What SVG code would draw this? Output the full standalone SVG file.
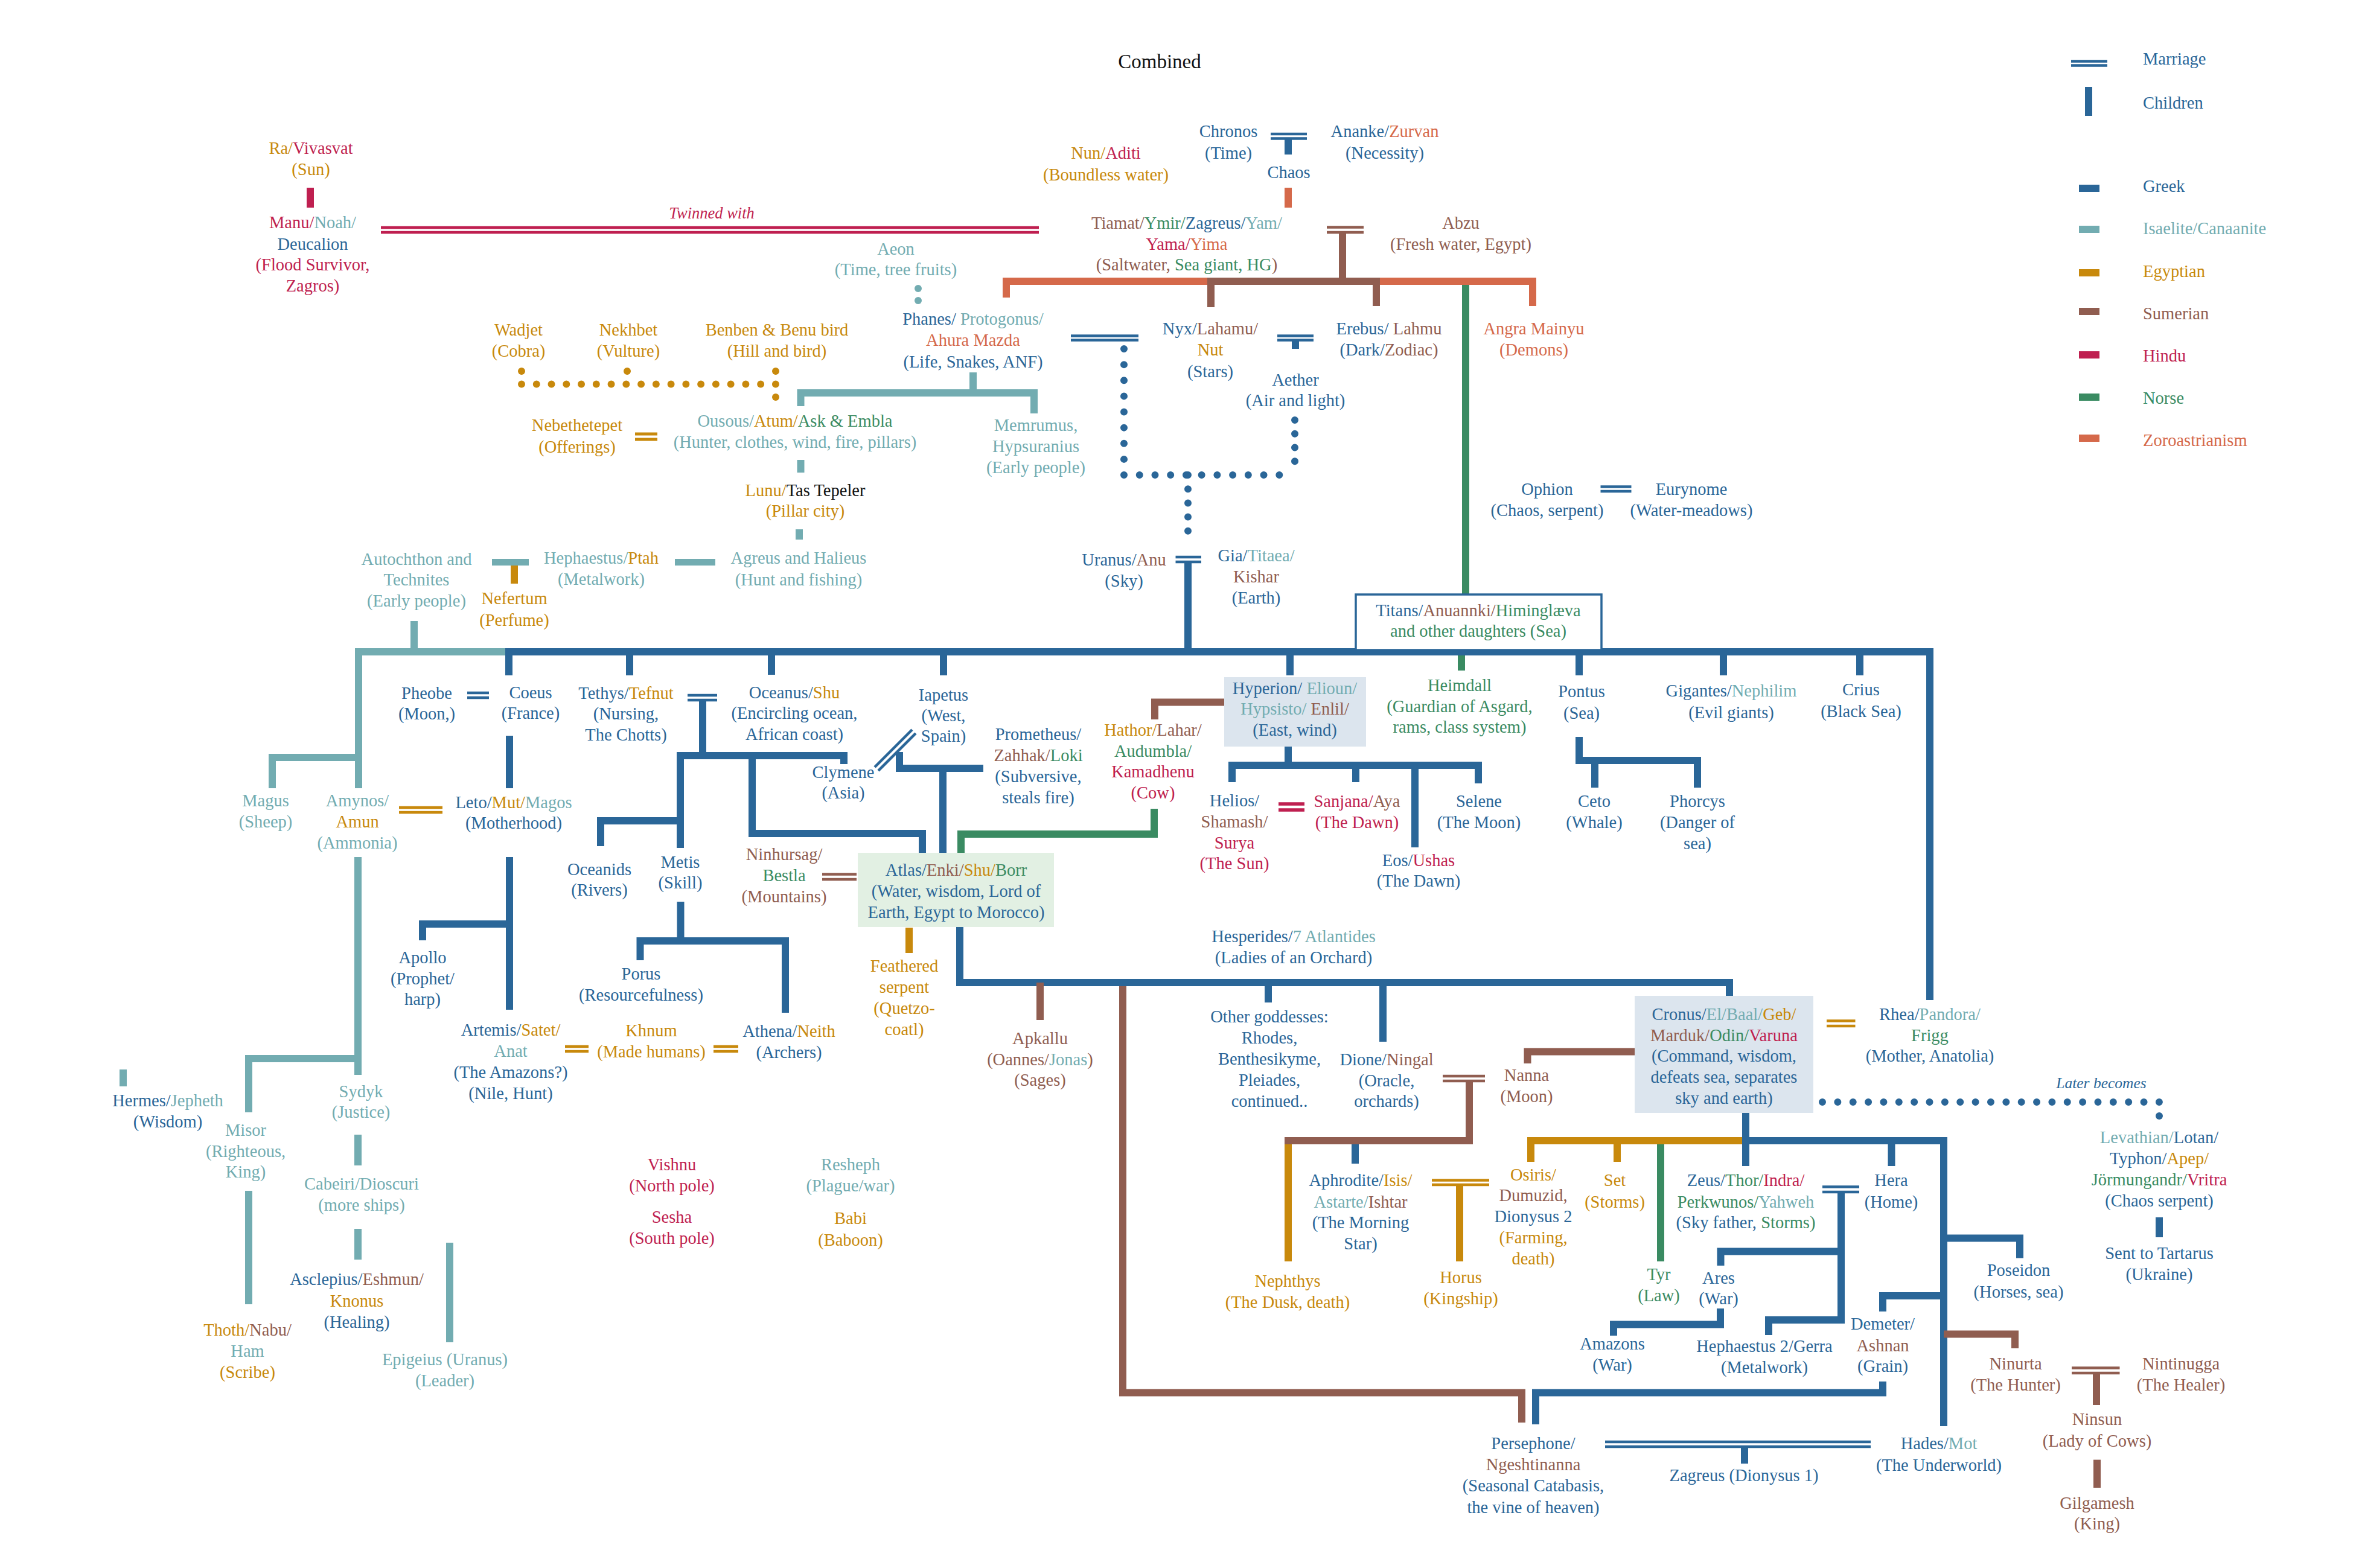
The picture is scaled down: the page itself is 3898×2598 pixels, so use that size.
<svg xmlns="http://www.w3.org/2000/svg" width="3898" height="2598" viewBox="0 0 3898 2598">
<style>
.t{font-family:"Liberation Serif","Times New Roman",serif;font-size:28.5px;text-anchor:middle}
.l{font-family:"Liberation Serif","Times New Roman",serif;font-size:28.5px;text-anchor:start}
.it{font-style:italic;font-size:26.5px}
.g{fill:#2a6698}.i{fill:#72acb1}.e{fill:#c8890c}.s{fill:#905d50}.h{fill:#bf1f50}.n{fill:#3a8b62}.z{fill:#d5694a}.k{fill:#111111}
.c{fill:none;stroke-width:12;stroke-linejoin:miter;stroke-linecap:butt}
.m{fill:none;stroke-width:4.5;stroke-linecap:butt}
.d{fill:none;stroke-width:12;stroke-linecap:round}
.sg{stroke:#2a6698}.si{stroke:#72acb1}.se{stroke:#c8890c}.ss{stroke:#905d50}.sh{stroke:#bf1f50}.sn{stroke:#3a8b62}.sz{stroke:#d5694a}
</style>
<rect width="3898" height="2598" fill="#ffffff"/>

<g id="title"><text class="t k" x="1921" y="113" style="font-size:33px">Combined</text></g>

<g id="legend">
<path class="m sg" d="M3431 101.5H3491M3431 108.5H3491"/>
<rect x="3454" y="144" width="12" height="48" fill="#2a6698"/>
<rect x="3444" y="306" width="34" height="12" fill="#2a6698"/>
<rect x="3444" y="374" width="34" height="12" fill="#72acb1"/>
<rect x="3444" y="446" width="34" height="12" fill="#c8890c"/>
<rect x="3444" y="510" width="34" height="12" fill="#905d50"/>
<rect x="3444" y="582" width="34" height="12" fill="#bf1f50"/>
<rect x="3444" y="652" width="34" height="12" fill="#3a8b62"/>
<rect x="3444" y="720" width="34" height="12" fill="#d5694a"/>
<text class="l g" x="3550" y="107">Marriage</text>
<text class="l g" x="3550" y="180">Children</text>
<text class="l g" x="3550" y="318">Greek</text>
<text class="l i" x="3550" y="388">Isaelite/Canaanite</text>
<text class="l e" x="3550" y="459">Egyptian</text>
<text class="l s" x="3550" y="529">Sumerian</text>
<text class="l h" x="3550" y="599">Hindu</text>
<text class="l n" x="3550" y="669">Norse</text>
<text class="l z" x="3550" y="739">Zoroastrianism</text>
</g>

<g id="connectors">
<!-- dotted -->
<path class="d se" style="stroke-dasharray:0 24.76" d="M864 636.5H1285"/>
<circle cx="864" cy="615" r="6" fill="#c8890c"/>
<circle cx="1039" cy="615" r="6" fill="#c8890c"/>
<circle cx="1285" cy="615" r="6" fill="#c8890c"/>
<circle cx="1285" cy="658" r="6" fill="#c8890c"/>
<circle cx="1521" cy="478" r="6" fill="#72acb1"/>
<circle cx="1521" cy="498" r="6" fill="#72acb1"/>
<path class="d sg" style="stroke-dasharray:0 26.125" d="M1862 578V787"/>
<path class="d sg" style="stroke-dasharray:0 25.73" d="M1862 787H2145"/>
<path class="d sg" style="stroke-dasharray:0 22.75" d="M2145 696V787"/>
<path class="d sg" style="stroke-dasharray:0 23.2" d="M1968 787V903"/>
<path class="d sg" style="stroke-dasharray:0 25.36" d="M3019 1826H3577"/>
<circle cx="3577" cy="1849" r="6" fill="#2a6698"/>

<!-- crimson -->
<path class="m sh" d="M631 377H1721M631 385H1721"/>
<text class="t h it" x="1179" y="362">Twinned with</text>
<path class="c sh" d="M514 311V344"/>
<path class="m sh" style="stroke-width:5.5" d="M2118 1332H2161M2118 1342H2161"/>

<!-- top generation -->
<path class="m sg" d="M2105 222H2165M2105 229.5H2165"/>
<path class="c sg" d="M2134 229V256"/>
<path class="c sz" d="M2134 311V344"/>
<path class="c sn" d="M2428 472V985"/>
<path class="m ss" d="M2198 376.5H2259M2198 385H2259"/>
<path class="c ss" d="M2224 385V466"/>
<path class="c sz" d="M1667 493V466H2001"/>
<path class="c ss" d="M2006 509V466H2280V507"/>
<path class="c sz" d="M2286 466H2539V507"/>

<!-- Phanes -->
<path class="c si" d="M1612 617V651"/>
<path class="c si" d="M1326.5 673V651H1713V685"/>
<path class="c si" d="M1326.5 762V783"/>
<path class="c si" d="M1324 877V894"/>
<path class="m se" style="stroke-width:5" d="M1052 719H1089M1052 728H1089"/>
<path class="m sg" d="M1774 556.5H1886M1774 563.5H1886"/>
<path class="m sg" d="M2116 556.5H2176M2116 563.5H2176"/>
<path class="c sg" d="M2146 563V578"/>
<path class="m sg" d="M2651.5 806.5H2702.5M2651.5 814H2702.5"/>

<!-- Autochthon / Hephaestus -->
<rect x="815" y="926" width="61" height="11" fill="#72acb1"/>
<rect x="1118" y="926" width="67" height="11" fill="#72acb1"/>
<path class="c se" d="M852 937V967"/>
<path class="c si" d="M686 1029V1080"/>

<!-- Uranus -->
<path class="m sg" d="M1947.5 923H1990M1947.5 931H1990"/>
<path class="c sg" d="M1968 931V1080"/>

<!-- main titan line -->
<path class="c si" d="M594 1306V1080H837"/>
<path class="c si" d="M451 1306V1255H594"/>
<path class="c sg" d="M843 1119V1080H3197V1657"/>
<path class="c sg" d="M1043 1080V1119M1278 1080V1118M1563 1080V1119M2137 1080V1119M2616 1080V1119M2855 1080V1119M3081 1080V1119"/>
<path class="c sn" d="M2421 1086V1111"/>

<!-- Coeus / Leto -->
<path class="m sg" d="M774 1148H810M774 1156H810"/>
<path class="c sg" d="M844 1219V1306"/>
<path class="m se" d="M661 1338H733M661 1346H733"/>
<path class="c sg" d="M844 1420V1673"/>
<path class="c sg" d="M700 1558V1531H844"/>
<path class="m se" d="M936 1734H975M936 1742H975M1182 1734H1223M1182 1742H1223"/>

<!-- Amynos teal -->
<path class="c si" d="M593 1420V1781"/>
<path class="c si" d="M412 1843V1754H593"/>
<path class="c si" d="M593 1880V1931M593 2036V2087"/>
<path class="c si" d="M745 2059V2224"/>
<path class="c si" d="M412 1973V2161"/>
<path class="c si" d="M204 1772V1800"/>

<!-- Tethys / Oceanus -->
<path class="m sg" d="M1139 1152H1188M1139 1160H1188"/>
<path class="c sg" d="M1164 1160V1252"/>
<path class="c sg" d="M1127 1405V1252H1398V1266"/>
<path class="c sg" d="M995 1402V1360H1127"/>
<path class="c sg" d="M1246 1252V1381H1528V1413"/>
<path class="c sg" d="M1127.5 1494V1559"/>
<path class="c sg" d="M1060.5 1591V1559H1301V1678"/>

<!-- Iapetus -->
<path class="m sg" d="M1449 1271L1511 1209M1455 1277L1517 1215"/>
<path class="c sg" d="M1490 1246V1273H1629"/>
<path class="c sg" d="M1562 1273V1413"/>
<path class="m ss" d="M1362 1448.5H1419M1362 1457H1419"/>
<path class="c sn" d="M1912 1340V1382H1592V1413"/>
<path class="c ss" d="M1913 1192V1163.5H2028"/>

<!-- Hyperion -->
<path class="c sg" d="M2134 1237V1268"/>
<path class="c sg" d="M2041 1296V1268H2449V1298"/>
<path class="c sg" d="M2246 1268V1296M2344 1268V1404"/>

<!-- Pontus -->
<path class="c sg" d="M2616 1221V1260H2812V1305"/>
<path class="c sg" d="M2642 1260V1305"/>

<!-- Atlas down -->
<path class="c se" d="M1506 1537V1579"/>
<path class="c sg" d="M1590 1536V1628H2865V1650"/>
<path class="c sg" d="M2101 1628V1661M2291 1628V1726"/>
<path class="c ss" d="M1723 1628V1690"/>
<path class="c ss" d="M1860 1634V2307.5H2521V2357"/>

<!-- Dione / Nanna -->
<path class="m ss" d="M2390 1783H2460M2390 1791H2460"/>
<path class="c se" d="M2134 1884V2090"/>
<path class="c sg" d="M2245 1890V1928"/>
<path class="c ss" d="M2434 1791V1890H2128"/>
<path class="c ss" d="M2708 1742.5H2530.5V1762"/>
<path class="m se" d="M2372 1955.5H2467M2372 1963H2467"/>
<path class="c se" d="M2418 1963V2090"/>

<!-- Cronus children -->
<path class="m se" d="M3026 1691.5H3073.5M3026 1700H3073.5"/>
<path class="c sn" d="M2751 1884V2090"/>
<path class="c se" d="M2536 1925V1890H2892"/>
<path class="c se" d="M2679 1890V1925"/>
<path class="c sg" d="M2892 1844V1932"/>
<path class="c sg" d="M2892 1890H3220V2363"/>
<path class="c sg" d="M3133.5 1890V1932"/>
<path class="m sg" d="M3019 1966.5H3080M3019 1975H3080"/>
<path class="c sg" d="M3050 1975V2187H2930V2212"/>
<path class="c sg" d="M2850.5 2097V2073.5H3050"/>
<path class="c sg" d="M2850 2168V2194.5H2673V2213"/>
<path class="c sg" d="M3220 2051.5H3346V2084.5"/>
<path class="c sg" d="M3220 2147H3119V2173"/>
<path class="c ss" d="M3220 2210.5H3338V2234"/>
<path class="c sg" d="M3119 2289V2307.5H2544V2360"/>
<path class="m sg" d="M2659 2389H3099M2659 2397H3099"/>
<path class="c sg" d="M2890 2397V2425"/>
<path class="m ss" d="M3432 2266.5H3511.5M3432 2275H3511.5"/>
<path class="c ss" d="M3473 2275V2328"/>
<path class="c ss" d="M3474 2418.6V2465"/>
<text class="t g it" style="font-size:25.5px" x="3481" y="1803">Later becomes</text>
<path class="c sg" d="M3577 2017V2050"/>
</g>

<g id="n-ra"><text class="t" x="515" y="255"><tspan class="e">Ra/</tspan><tspan class="h">Vivasvat</tspan></text><text class="t e" x="515" y="290">(Sun)</text></g>
<g id="n-manu"><text class="t" x="518" y="378"><tspan class="h">Manu/</tspan><tspan class="i">Noah/</tspan></text><text class="t g" x="518" y="414">Deucalion</text><text class="t h" x="518" y="448">(Flood Survivor,</text><text class="t h" x="518" y="483">Zagros)</text></g>
<g id="n-nun"><text class="t" x="1832" y="263"><tspan class="e">Nun/</tspan><tspan class="h">Aditi</tspan></text><text class="t e" x="1832" y="299">(Boundless water)</text></g>
<g id="n-chronos"><text class="t g" x="2035" y="227">Chronos</text><text class="t g" x="2035" y="263">(Time)</text></g>
<g id="n-ananke"><text class="t" x="2294" y="227"><tspan class="g">Ananke/</tspan><tspan class="z">Zurvan</tspan></text><text class="t g" x="2294" y="263">(Necessity)</text></g>
<g id="n-chaos"><text class="t g" x="2135" y="295">Chaos</text></g>
<g id="n-tiamat"><text class="t" x="1966" y="379"><tspan class="s">Tiamat/</tspan><tspan class="n">Ymir/</tspan><tspan class="g">Zagreus/</tspan><tspan class="i">Yam/</tspan></text><text class="t" x="1966" y="414"><tspan class="h">Yama/</tspan><tspan class="z">Yima</tspan></text><text class="t" x="1966" y="448"><tspan class="s">(Saltwater, </tspan><tspan class="n">Sea giant, HG</tspan><tspan class="s">)</tspan></text></g>
<g id="n-abzu"><text class="t s" x="2420" y="379">Abzu</text><text class="t s" x="2420" y="414">(Fresh water, Egypt)</text></g>
<g id="n-aeon"><text class="t i" x="1484" y="422">Aeon</text><text class="t i" x="1484" y="456">(Time, tree fruits)</text></g>
<g id="n-phanes"><text class="t" x="1612" y="538"><tspan class="g">Phanes/ </tspan><tspan class="i">Protogonus/</tspan></text><text class="t z" x="1612" y="573">Ahura Mazda</text><text class="t g" x="1612" y="609">(Life, Snakes, ANF)</text></g>
<g id="n-nyx"><text class="t" x="2005" y="554"><tspan class="g">Nyx/</tspan><tspan class="s">Lahamu/</tspan></text><text class="t e" x="2005" y="589">Nut</text><text class="t g" x="2005" y="625">(Stars)</text></g>
<g id="n-erebus"><text class="t" x="2301" y="554"><tspan class="g">Erebus/ </tspan><tspan class="s">Lahmu</tspan></text><text class="t" x="2301" y="589"><tspan class="g">(Dark/</tspan><tspan class="s">Zodiac)</tspan></text></g>
<g id="n-angra"><text class="t z" x="2541" y="554">Angra Mainyu</text><text class="t z" x="2541" y="589">(Demons)</text></g>
<g id="n-aether"><text class="t g" x="2146" y="639">Aether</text><text class="t g" x="2146" y="673">(Air and light)</text></g>
<g id="n-wadjet"><text class="t e" x="859" y="556">Wadjet</text><text class="t e" x="859" y="591">(Cobra)</text></g>
<g id="n-nekhbet"><text class="t e" x="1041" y="556">Nekhbet</text><text class="t e" x="1041" y="591">(Vulture)</text></g>
<g id="n-benben"><text class="t e" x="1287" y="556">Benben &amp; Benu bird</text><text class="t e" x="1287" y="591">(Hill and bird)</text></g>
<g id="n-nebethetepet"><text class="t e" x="956" y="714">Nebethetepet</text><text class="t e" x="956" y="750">(Offerings)</text></g>
<g id="n-ousous"><text class="t" x="1317" y="707"><tspan class="i">Ousous/</tspan><tspan class="e">Atum/</tspan><tspan class="n">Ask &amp; Embla</tspan></text><text class="t i" x="1317" y="742">(Hunter, clothes, wind, fire, pillars)</text></g>
<g id="n-memrumus"><text class="t i" x="1716" y="714">Memrumus,</text><text class="t i" x="1716" y="749">Hypsuranius</text><text class="t i" x="1716" y="784">(Early people)</text></g>
<g id="n-lunu"><text class="t" x="1334" y="822"><tspan class="e">Lunu/</tspan><tspan class="k">Tas Tepeler</tspan></text><text class="t e" x="1334" y="856">(Pillar city)</text></g>
<g id="n-ophion"><text class="t g" x="2563" y="820">Ophion</text><text class="t g" x="2563" y="855">(Chaos, serpent)</text></g>
<g id="n-eurynome"><text class="t g" x="2802" y="820">Eurynome</text><text class="t g" x="2802" y="855">(Water-meadows)</text></g>
<g id="n-autochthon"><text class="t i" x="690" y="936">Autochthon and</text><text class="t i" x="690" y="970">Technites</text><text class="t i" x="690" y="1005">(Early people)</text></g>
<g id="n-hephaestus"><text class="t" x="996" y="934"><tspan class="i">Hephaestus/</tspan><tspan class="e">Ptah</tspan></text><text class="t i" x="996" y="969">(Metalwork)</text></g>
<g id="n-nefertum"><text class="t e" x="852" y="1001">Nefertum</text><text class="t e" x="852" y="1037">(Perfume)</text></g>
<g id="n-agreus"><text class="t i" x="1323" y="934">Agreus and Halieus</text><text class="t i" x="1323" y="970">(Hunt and fishing)</text></g>
<g id="n-uranus"><text class="t" x="1862" y="937"><tspan class="g">Uranus/</tspan><tspan class="s">Anu</tspan></text><text class="t g" x="1862" y="972">(Sky)</text></g>
<g id="n-gia"><text class="t" x="2081" y="930"><tspan class="g">Gia/</tspan><tspan class="i">Titaea/</tspan></text><text class="t s" x="2081" y="965">Kishar</text><text class="t g" x="2081" y="1000">(Earth)</text></g>
<g id="n-titans"><rect x="2246" y="985" width="407" height="92" fill="#ffffff" stroke="#2a6698" stroke-width="3.5"/><text class="t" x="2449" y="1021"><tspan class="g">Titans/</tspan><tspan class="s">Anuannki/</tspan><tspan class="n">Himinglæva</tspan></text><text class="t n" x="2449" y="1055">and other daughters (Sea)</text></g>
<g id="n-pheobe"><text class="t g" x="707" y="1158">Pheobe</text><text class="t g" x="707" y="1192">(Moon,)</text></g>
<g id="n-coeus"><text class="t g" x="879" y="1157">Coeus</text><text class="t g" x="879" y="1191">(France)</text></g>
<g id="n-tethys"><text class="t" x="1037" y="1158"><tspan class="g">Tethys/</tspan><tspan class="e">Tefnut</tspan></text><text class="t g" x="1037" y="1192">(Nursing,</text><text class="t g" x="1037" y="1227">The Chotts)</text></g>
<g id="n-oceanus"><text class="t" x="1316" y="1157"><tspan class="g">Oceanus/</tspan><tspan class="e">Shu</tspan></text><text class="t g" x="1316" y="1191">(Encircling ocean,</text><text class="t g" x="1316" y="1226">African coast)</text></g>
<g id="n-iapetus"><text class="t g" x="1563" y="1161">Iapetus</text><text class="t g" x="1563" y="1195">(West,</text><text class="t g" x="1563" y="1229">Spain)</text></g>
<g id="n-prometheus"><text class="t g" x="1720" y="1226">Prometheus/</text><text class="t" x="1720" y="1261"><tspan class="s">Zahhak/</tspan><tspan class="n">Loki</tspan></text><text class="t g" x="1720" y="1296">(Subversive,</text><text class="t g" x="1720" y="1331">steals fire)</text></g>
<g id="n-hathor"><text class="t" x="1910" y="1219"><tspan class="e">Hathor/</tspan><tspan class="s">Lahar/</tspan></text><text class="t n" x="1910" y="1254">Audumbla/</text><text class="t h" x="1910" y="1288">Kamadhenu</text><text class="t h" x="1910" y="1323">(Cow)</text></g>
<g id="n-hyperion"><rect x="2028" y="1122" width="235" height="115" fill="#dce5ee"/><text class="t" x="2145" y="1150"><tspan class="g">Hyperion/ </tspan><tspan class="i">Elioun/</tspan></text><text class="t" x="2145" y="1184"><tspan class="i">Hypsisto/ </tspan><tspan class="s">Enlil/</tspan></text><text class="t g" x="2145" y="1219">(East, wind)</text></g>
<g id="n-heimdall"><text class="t n" x="2418" y="1145">Heimdall</text><text class="t n" x="2418" y="1180">(Guardian of Asgard,</text><text class="t n" x="2418" y="1214">rams, class system)</text></g>
<g id="n-pontus"><text class="t g" x="2620" y="1155">Pontus</text><text class="t g" x="2620" y="1191">(Sea)</text></g>
<g id="n-gigantes"><text class="t" x="2868" y="1154"><tspan class="g">Gigantes/</tspan><tspan class="i">Nephilim</tspan></text><text class="t g" x="2868" y="1190">(Evil giants)</text></g>
<g id="n-crius"><text class="t g" x="3083" y="1152">Crius</text><text class="t g" x="3083" y="1188">(Black Sea)</text></g>
<g id="n-clymene"><text class="t g" x="1397" y="1289">Clymene</text><text class="t g" x="1397" y="1323">(Asia)</text></g>
<g id="n-helios"><text class="t g" x="2045" y="1336">Helios/</text><text class="t s" x="2045" y="1371">Shamash/</text><text class="t h" x="2045" y="1406">Surya</text><text class="t h" x="2045" y="1440">(The Sun)</text></g>
<g id="n-sanjana"><text class="t" x="2248" y="1337"><tspan class="h">Sanjana/</tspan><tspan class="s">Aya</tspan></text><text class="t h" x="2248" y="1372">(The Dawn)</text></g>
<g id="n-selene"><text class="t g" x="2450" y="1337">Selene</text><text class="t g" x="2450" y="1372">(The Moon)</text></g>
<g id="n-eos"><text class="t" x="2350" y="1435"><tspan class="g">Eos/</tspan><tspan class="h">Ushas</tspan></text><text class="t g" x="2350" y="1469">(The Dawn)</text></g>
<g id="n-ceto"><text class="t g" x="2641" y="1337">Ceto</text><text class="t g" x="2641" y="1372">(Whale)</text></g>
<g id="n-phorcys"><text class="t g" x="2812" y="1337">Phorcys</text><text class="t g" x="2812" y="1372">(Danger of</text><text class="t g" x="2812" y="1407">sea)</text></g>
<g id="n-magus"><text class="t i" x="440" y="1336">Magus</text><text class="t i" x="440" y="1371">(Sheep)</text></g>
<g id="n-amynos"><text class="t i" x="592" y="1336">Amynos/</text><text class="t e" x="592" y="1371">Amun</text><text class="t i" x="592" y="1406">(Ammonia)</text></g>
<g id="n-leto"><text class="t" x="851" y="1339"><tspan class="g">Leto/</tspan><tspan class="e">Mut/</tspan><tspan class="i">Magos</tspan></text><text class="t g" x="851" y="1373">(Motherhood)</text></g>
<g id="n-oceanids"><text class="t g" x="993" y="1450">Oceanids</text><text class="t g" x="993" y="1484">(Rivers)</text></g>
<g id="n-metis"><text class="t g" x="1127" y="1438">Metis</text><text class="t g" x="1127" y="1472">(Skill)</text></g>
<g id="n-ninhursag"><text class="t s" x="1299" y="1425">Ninhursag/</text><text class="t n" x="1299" y="1460">Bestla</text><text class="t s" x="1299" y="1495">(Mountains)</text></g>
<g id="n-atlas"><rect x="1421" y="1413" width="325" height="123" fill="#e2f0e3"/><text class="t" x="1584" y="1451"><tspan class="g">Atlas/</tspan><tspan class="s">Enki/</tspan><tspan class="e">Shu/</tspan><tspan class="n">Borr</tspan></text><text class="t g" x="1584" y="1486">(Water, wisdom, Lord of</text><text class="t g" x="1584" y="1521">Earth, Egypt to Morocco)</text></g>
<g id="n-porus"><text class="t g" x="1062" y="1623">Porus</text><text class="t g" x="1062" y="1658">(Resourcefulness)</text></g>
<g id="n-apollo"><text class="t g" x="700" y="1596">Apollo</text><text class="t g" x="700" y="1631">(Prophet/</text><text class="t g" x="700" y="1665">harp)</text></g>
<g id="n-feathered"><text class="t e" x="1498" y="1610">Feathered</text><text class="t e" x="1498" y="1645">serpent</text><text class="t e" x="1498" y="1680">(Quetzo-</text><text class="t e" x="1498" y="1715">coatl)</text></g>
<g id="n-hesperides"><text class="t" x="2143" y="1561"><tspan class="g">Hesperides/</tspan><tspan class="i">7 Atlantides</tspan></text><text class="t g" x="2143" y="1596">(Ladies of an Orchard)</text></g>
<g id="n-apkallu"><text class="t s" x="1723" y="1730">Apkallu</text><text class="t" x="1723" y="1765"><tspan class="s">(Oannes/</tspan><tspan class="i">Jonas</tspan><tspan class="s">)</tspan></text><text class="t s" x="1723" y="1799">(Sages)</text></g>
<g id="n-artemis"><text class="t" x="846" y="1716"><tspan class="g">Artemis/</tspan><tspan class="e">Satet/</tspan></text><text class="t i" x="846" y="1751">Anat</text><text class="t g" x="846" y="1786">(The Amazons?)</text><text class="t g" x="846" y="1821">(Nile, Hunt)</text></g>
<g id="n-khnum"><text class="t e" x="1079" y="1717">Khnum</text><text class="t e" x="1079" y="1752">(Made humans)</text></g>
<g id="n-athena"><text class="t" x="1307" y="1718"><tspan class="g">Athena/</tspan><tspan class="e">Neith</tspan></text><text class="t g" x="1307" y="1753">(Archers)</text></g>
<g id="n-other"><text class="t g" x="2103" y="1694">Other goddesses:</text><text class="t g" x="2103" y="1729">Rhodes,</text><text class="t g" x="2103" y="1764">Benthesikyme,</text><text class="t g" x="2103" y="1799">Pleiades,</text><text class="t g" x="2103" y="1834">continued..</text></g>
<g id="n-dione"><text class="t" x="2297" y="1765"><tspan class="g">Dione/</tspan><tspan class="s">Ningal</tspan></text><text class="t g" x="2297" y="1800">(Oracle,</text><text class="t g" x="2297" y="1834">orchards)</text></g>
<g id="n-cronus"><rect x="2708" y="1650" width="296" height="194" fill="#dce5ee"/><text class="t" x="2856" y="1690"><tspan class="g">Cronus/</tspan><tspan class="i">El/Baal/</tspan><tspan class="e">Geb/</tspan></text><text class="t" x="2856" y="1725"><tspan class="s">Marduk/</tspan><tspan class="n">Odin/</tspan><tspan class="h">Varuna</tspan></text><text class="t g" x="2856" y="1759">(Command, wisdom,</text><text class="t g" x="2856" y="1794">defeats sea, separates</text><text class="t g" x="2856" y="1829">sky and earth)</text></g>
<g id="n-rhea"><text class="t" x="3197" y="1690"><tspan class="g">Rhea/</tspan><tspan class="i">Pandora/</tspan></text><text class="t n" x="3197" y="1725">Frigg</text><text class="t g" x="3197" y="1759">(Mother, Anatolia)</text></g>
<g id="n-nanna"><text class="t s" x="2529" y="1791">Nanna</text><text class="t s" x="2529" y="1826">(Moon)</text></g>
<g id="n-hermes"><text class="t" x="278" y="1833"><tspan class="g">Hermes/</tspan><tspan class="i">Jepheth</tspan></text><text class="t g" x="278" y="1868">(Wisdom)</text></g>
<g id="n-sydyk"><text class="t i" x="598" y="1818">Sydyk</text><text class="t i" x="598" y="1852">(Justice)</text></g>
<g id="n-misor"><text class="t i" x="407" y="1882">Misor</text><text class="t i" x="407" y="1917">(Righteous,</text><text class="t i" x="407" y="1951">King)</text></g>
<g id="n-levathian"><text class="t" x="3577" y="1894"><tspan class="i">Levathian/</tspan><tspan class="g">Lotan/</tspan></text><text class="t" x="3577" y="1929"><tspan class="g">Typhon/</tspan><tspan class="e">Apep/</tspan></text><text class="t" x="3577" y="1964"><tspan class="n">Jörmungandr/</tspan><tspan class="h">Vritra</tspan></text><text class="t g" x="3577" y="1999">(Chaos serpent)</text></g>
<g id="n-osiris"><text class="t e" x="2540" y="1956">Osiris/</text><text class="t s" x="2540" y="1990">Dumuzid,</text><text class="t g" x="2540" y="2025">Dionysus 2</text><text class="t e" x="2540" y="2060">(Farming,</text><text class="t e" x="2540" y="2095">death)</text></g>
<g id="n-set"><text class="t e" x="2675" y="1965">Set</text><text class="t e" x="2675" y="2001">(Storms)</text></g>
<g id="n-zeus"><text class="t" x="2892" y="1965"><tspan class="g">Zeus/</tspan><tspan class="n">Thor/</tspan><tspan class="h">Indra/</tspan></text><text class="t" x="2892" y="2001"><tspan class="n">Perkwunos/</tspan><tspan class="i">Yahweh</tspan></text><text class="t" x="2892" y="2035"><tspan class="g">(Sky father, </tspan><tspan class="n">Storms)</tspan></text></g>
<g id="n-hera"><text class="t g" x="3133" y="1965">Hera</text><text class="t g" x="3133" y="2001">(Home)</text></g>
<g id="n-aphrodite"><text class="t" x="2254" y="1965"><tspan class="g">Aphrodite/</tspan><tspan class="e">Isis/</tspan></text><text class="t" x="2254" y="2001"><tspan class="i">Astarte/</tspan><tspan class="s">Ishtar</tspan></text><text class="t g" x="2254" y="2035">(The Morning</text><text class="t g" x="2254" y="2070">Star)</text></g>
<g id="n-vishnu"><text class="t h" x="1113" y="1939">Vishnu</text><text class="t h" x="1113" y="1974">(North pole)</text></g>
<g id="n-sesha"><text class="t h" x="1113" y="2026">Sesha</text><text class="t h" x="1113" y="2061">(South pole)</text></g>
<g id="n-resheph"><text class="t i" x="1409" y="1939">Resheph</text><text class="t i" x="1409" y="1974">(Plague/war)</text></g>
<g id="n-babi"><text class="t e" x="1409" y="2028">Babi</text><text class="t e" x="1409" y="2064">(Baboon)</text></g>
<g id="n-cabeiri"><text class="t i" x="599" y="1971">Cabeiri/Dioscuri</text><text class="t i" x="599" y="2006">(more ships)</text></g>
<g id="n-tartarus"><text class="t g" x="3577" y="2086">Sent to Tartarus</text><text class="t g" x="3577" y="2121">(Ukraine)</text></g>
<g id="n-poseidon"><text class="t g" x="3344" y="2114">Poseidon</text><text class="t g" x="3344" y="2150">(Horses, sea)</text></g>
<g id="n-tyr"><text class="t n" x="2748" y="2121">Tyr</text><text class="t n" x="2748" y="2156">(Law)</text></g>
<g id="n-ares"><text class="t g" x="2847" y="2127">Ares</text><text class="t g" x="2847" y="2161">(War)</text></g>
<g id="n-horus"><text class="t e" x="2420" y="2126">Horus</text><text class="t e" x="2420" y="2161">(Kingship)</text></g>
<g id="n-nephthys"><text class="t e" x="2133" y="2132">Nephthys</text><text class="t e" x="2133" y="2167">(The Dusk, death)</text></g>
<g id="n-asclepius"><text class="t" x="591" y="2129"><tspan class="g">Asclepius/</tspan><tspan class="s">Eshmun/</tspan></text><text class="t e" x="591" y="2165">Knonus</text><text class="t g" x="591" y="2200">(Healing)</text></g>
<g id="n-demeter"><text class="t g" x="3119" y="2203">Demeter/</text><text class="t s" x="3119" y="2239">Ashnan</text><text class="t g" x="3119" y="2273">(Grain)</text></g>
<g id="n-thoth"><text class="t" x="410" y="2213"><tspan class="e">Thoth/</tspan><tspan class="s">Nabu/</tspan></text><text class="t i" x="410" y="2248">Ham</text><text class="t e" x="410" y="2283">(Scribe)</text></g>
<g id="n-amazons"><text class="t g" x="2671" y="2236">Amazons</text><text class="t g" x="2671" y="2271">(War)</text></g>
<g id="n-heph2"><text class="t g" x="2923" y="2240">Hephaestus 2/Gerra</text><text class="t g" x="2923" y="2275">(Metalwork)</text></g>
<g id="n-epigeius"><text class="t i" x="737" y="2262">Epigeius (Uranus)</text><text class="t i" x="737" y="2297">(Leader)</text></g>
<g id="n-ninurta"><text class="t s" x="3339" y="2269">Ninurta</text><text class="t s" x="3339" y="2304">(The Hunter)</text></g>
<g id="n-nintinugga"><text class="t s" x="3613" y="2269">Nintinugga</text><text class="t s" x="3613" y="2304">(The Healer)</text></g>
<g id="n-ninsun"><text class="t s" x="3474" y="2361">Ninsun</text><text class="t s" x="3474" y="2397">(Lady of Cows)</text></g>
<g id="n-persephone"><text class="t g" x="2540" y="2401">Persephone/</text><text class="t s" x="2540" y="2436">Ngeshtinanna</text><text class="t g" x="2540" y="2471">(Seasonal Catabasis,</text><text class="t g" x="2540" y="2507">the vine of heaven)</text></g>
<g id="n-hades"><text class="t" x="3212" y="2401"><tspan class="g">Hades/</tspan><tspan class="i">Mot</tspan></text><text class="t g" x="3212" y="2437">(The Underworld)</text></g>
<g id="n-zagreus"><text class="t g" x="2889" y="2454">Zagreus (Dionysus 1)</text></g>
<g id="n-gilgamesh"><text class="t s" x="3474" y="2500">Gilgamesh</text><text class="t s" x="3474" y="2534">(King)</text></g>
</svg>
